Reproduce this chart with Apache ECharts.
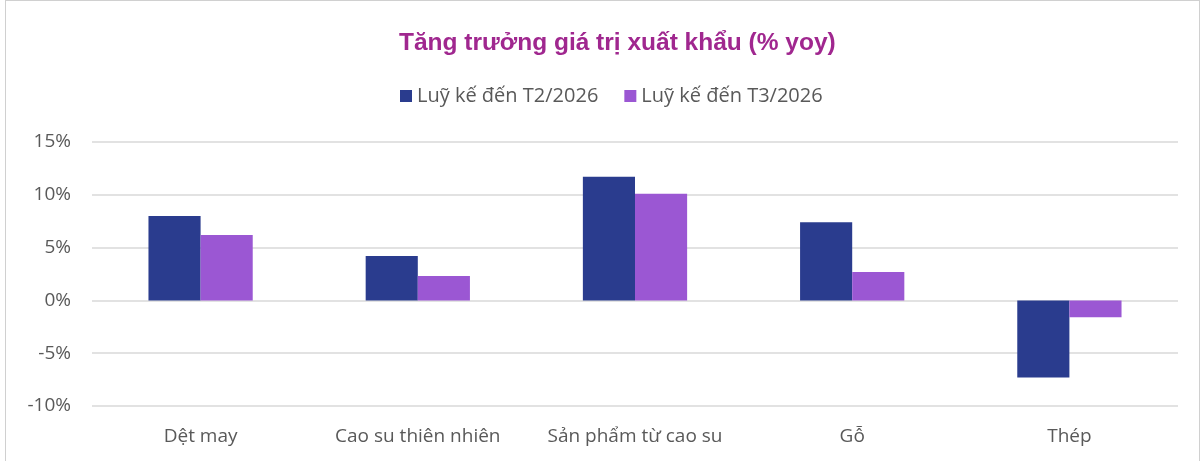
<!DOCTYPE html>
<html>
<head>
<meta charset="utf-8">
<script src="https://cdn.jsdelivr.net/npm/echarts@6/dist/echarts.min.js"></script>
<style>
  html, body { margin: 0; padding: 0; background: #fff; }
  #chart { height: 461px; box-sizing: border-box; border-left: 1px solid #d0d0d0; border-right: 1px solid #d0d0d0; border-top: 1px solid #d0d0d0; margin-left: 5px; width: 1195px; }
</style>
</head>
<body>
<div id="chart"></div>
<script>
const categories = ['Dệt may', 'Cao su thiên nhiên', 'Sản phẩm từ cao su', 'Gỗ', 'Thép'];
const seriesNames = ['Luỹ kế đến T2/2026', 'Luỹ kế đến T3/2026'];
const t2Values = [8.0, 4.2, 11.7, 7.4, -7.3];
const t3Values = [6.2, 2.3, 10.1, 2.7, -1.6];
const colors = ['#2a3c8e', '#9b57d3'];

const labelFont = '"Open Sans", "Noto Sans", sans-serif';

const chart = echarts.init(document.getElementById('chart'));

chart.setOption({
  animation: false,
  title: {
    text: 'Tăng trưởng giá trị xuất khẩu (% yoy)',
    left: 388,
    top: 25,
    textStyle: {
      color: '#a0278f',
      fontFamily: '"Liberation Sans", Arial, sans-serif',
      fontWeight: 'bold',
      fontSize: 24.5
    }
  },
  legend: {
    top: 80,
    left: 389,
    itemWidth: 12,
    itemHeight: 12,
    itemGap: 26,
    icon: 'rect',
    textStyle: {
      color: '#595959',
      fontFamily: labelFont,
      fontSize: 20
    },
    data: seriesNames
  },
  grid: {
    left: 86,
    right: 21,
    top: 141,
    bottom: 55
  },
  xAxis: {
    type: 'category',
    data: categories,
    axisLine: { show: false },
    axisTick: { show: false },
    axisLabel: {
      interval: 0,
      color: '#595959',
      fontFamily: labelFont,
      fontSize: 19,
      margin: 21
    }
  },
  yAxis: {
    type: 'value',
    min: -10,
    max: 15,
    interval: 5,
    axisLine: { show: false },
    axisTick: { show: false },
    axisLabel: {
      color: '#595959',
      fontFamily: labelFont,
      fontSize: 19,
      margin: 21,
      formatter: (v) => v + '%'
    },
    splitLine: {
      lineStyle: { color: '#d9d9d9', width: 1.5 }
    }
  },
  series: [
    {
      name: seriesNames[0],
      type: 'bar',
      data: t2Values,
      barWidth: '24%',
      barGap: '0%',
      itemStyle: { color: colors[0] }
    },
    {
      name: seriesNames[1],
      type: 'bar',
      data: t3Values,
      barWidth: '24%',
      barGap: '0%',
      itemStyle: { color: colors[1] }
    }
  ]
});
</script>
</body>
</html>
